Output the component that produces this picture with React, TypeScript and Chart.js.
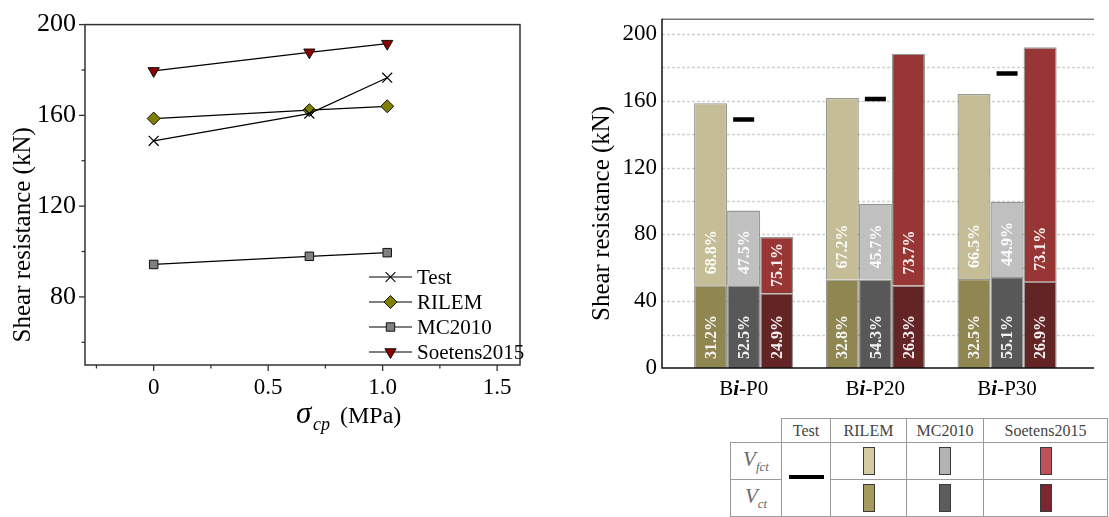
import React, { useEffect, useRef } from "react";
import { Chart, registerables } from "chart.js";

Chart.register(...registerables);

// ---------- Left panel data (shear resistance vs. prestress) ----------
const sigmaCp = [0, 0.68, 1.02];
const testKN = [148.8, 160.8, 176.6];
const rilemKN = [158.6, 162.3, 164.0];
const mc2010KN = [94.3, 97.9, 99.5];
const soetensKN = [179.6, 187.8, 191.6];
const leftSeriesNames = ["Test", "RILEM", "MC2010", "Soetens2015"];
const leftXTicks = [-0.25, 0, 0.25, 0.5, 0.75, 1.0, 1.25, 1.5];
const leftYTicks = [60, 80, 100, 120, 140, 160, 180, 200];

// ---------- Right panel data (stacked contributions) ----------
const specimens = ["Bi-P0", "Bi-P20", "Bi-P30"];
const specimenPos = [0, 1, 2];
const rilemVct = [49.5, 53.0, 53.3];
const rilemVfct = [109.0, 108.6, 110.7];
const mcVct = [49.5, 53.0, 54.5];
const mcVfct = [44.7, 45.3, 45.0];
const soetensVct = [44.7, 49.4, 51.6];
const soetensVfct = [33.8, 138.7, 140.3];
const testBarKN = [148.7, 161.0, 176.3];
const rilemPctVct = ["31.2%", "32.8%", "32.5%"];
const rilemPctVfct = ["68.8%", "67.2%", "66.5%"];
const mcPctVct = ["52.5%", "54.3%", "55.1%"];
const mcPctVfct = ["47.5%", "45.7%", "44.9%"];
const soetensPctVct = ["24.9%", "26.3%", "26.9%"];
const soetensPctVfct = ["75.1%", "73.7%", "73.1%"];
const rightYTicks = [0, 20, 40, 60, 80, 100, 120, 140, 160, 180, 200];

const serif = "'Liberation Serif', 'Times New Roman', Times, serif";

function drawMarker(ctx: CanvasRenderingContext2D, kind: string, x: number, y: number) {
  ctx.save();
  ctx.lineWidth = 1;
  ctx.strokeStyle = "#111";
  ctx.beginPath();
  if (kind === "Test") {
    const h = 4.9;
    ctx.lineWidth = 1.2;
    ctx.moveTo(x - h, y - h); ctx.lineTo(x + h, y + h);
    ctx.moveTo(x + h, y - h); ctx.lineTo(x - h, y + h);
    ctx.stroke();
  } else if (kind === "RILEM") {
    const r = 6.5;
    ctx.moveTo(x - r, y); ctx.lineTo(x, y - r); ctx.lineTo(x + r, y); ctx.lineTo(x, y + r); ctx.closePath();
    ctx.fillStyle = "#808000"; ctx.fill(); ctx.stroke();
  } else if (kind === "MC2010") {
    const h = 4.2;
    ctx.rect(x - h, y - h, 2 * h, 2 * h);
    ctx.fillStyle = "#808080"; ctx.fill(); ctx.stroke();
  } else {
    const r = 6.5;
    ctx.moveTo(x, y + r); ctx.lineTo(x - r * 0.866, y - r / 2); ctx.lineTo(x + r * 0.866, y - r / 2); ctx.closePath();
    ctx.fillStyle = "#8b0000"; ctx.fill(); ctx.stroke();
  }
  ctx.restore();
}

const leftDecor = {
  id: "leftDecor",
  afterDraw(chart: any) {
    const { ctx, chartArea: a, scales } = chart;
    const xs = scales.x, ys = scales.y;
    ctx.save();
    ctx.strokeStyle = "#333";
    ctx.lineWidth = 1.5;
    ctx.strokeRect(a.left, a.top, a.right - a.left, a.bottom - a.top);
    ctx.lineWidth = 1.3;
    leftXTicks.forEach((v) => {
      const px = xs.getPixelForValue(v);
      const major = Math.abs(v * 2 - Math.round(v * 2)) < 1e-6;
      ctx.beginPath(); ctx.moveTo(px, a.bottom); ctx.lineTo(px, a.bottom + (major ? 6 : 3.5)); ctx.stroke();
    });
    leftYTicks.forEach((v) => {
      const py = ys.getPixelForValue(v);
      const major = v % 40 === 0;
      ctx.beginPath(); ctx.moveTo(a.left, py); ctx.lineTo(a.left - (major ? 6 : 3.5), py); ctx.stroke();
    });
    // y title
    ctx.fillStyle = "#000";
    ctx.save();
    ctx.translate(23, (a.top + a.bottom) / 2 + 40);
    ctx.rotate(-Math.PI / 2);
    ctx.font = `25px ${serif}`;
    ctx.textAlign = "center";
    ctx.textBaseline = "middle";
    ctx.fillText("Shear resistance (kN)", 0, 0);
    ctx.restore();
    // x title
    ctx.textBaseline = "alphabetic";
    ctx.textAlign = "left";
    ctx.font = `italic 31px ${serif}`;
    ctx.fillText("\u03c3", 296, 423);
    ctx.font = `italic 18px ${serif}`;
    ctx.fillText("cp", 313, 430);
    ctx.font = `24px ${serif}`;
    ctx.fillText("(MPa)", 340, 423);
    // legend
    const rows = [277, 302, 327, 352];
    leftSeriesNames.forEach((name, i) => {
      const y = rows[i];
      ctx.strokeStyle = "#000";
      ctx.lineWidth = 1.2;
      ctx.beginPath(); ctx.moveTo(369, y); ctx.lineTo(412, y); ctx.stroke();
      drawMarker(ctx, name, 390.5, y);
      ctx.fillStyle = "#000";
      ctx.font = `21px ${serif}`;
      ctx.textBaseline = "middle";
      ctx.fillText(name, 417, y + 1);
    });
    ctx.restore();
  },
};

const rightDecor = {
  id: "rightDecor",
  beforeDatasetsDraw(chart: any) {
    const { ctx, chartArea: a, scales } = chart;
    ctx.save();
    ctx.strokeStyle = "#d2d2d2";
    ctx.lineWidth = 1.3;
    ctx.setLineDash([3, 2]);
    rightYTicks.forEach((v) => {
      if (v === 0) return;
      const py = Math.round(scales.y.getPixelForValue(v)) + 0.5;
      ctx.beginPath(); ctx.moveTo(a.left, py); ctx.lineTo(a.right, py); ctx.stroke();
    });
    ctx.restore();
  },
  afterDatasetsDraw(chart: any) {
    const { ctx } = chart;
    ctx.save();
    ctx.font = `bold 16px ${serif}`;
    chart.data.datasets.forEach((ds: any, di: number) => {
      if (!ds.pct) return;
      const meta = chart.getDatasetMeta(di);
      meta.data.forEach((el: any, i: number) => {
        const { x, y: top, base } = el.getProps(["x", "y", "base"], true);
        const txt = ds.pct[i];
        const w = ctx.measureText(txt).width;
        const pad = ds.part === "ct" ? 9 : 11;
        let start = base - pad;
        if (base - top < w + 2 * pad) start = (base + top) / 2 + w / 2;
        ctx.save();
        ctx.translate(x + 1, start);
        ctx.rotate(-Math.PI / 2);
        ctx.textAlign = "left";
        ctx.textBaseline = "middle";
        ctx.fillStyle = "rgba(255,255,255,0.93)";
        ctx.fillText(txt, 0, 0);
        ctx.restore();
      });
    });
    ctx.restore();
  },
  afterDraw(chart: any) {
    const { ctx, chartArea: a, scales } = chart;
    ctx.save();
    ctx.strokeStyle = "#777";
    ctx.lineWidth = 1.5;
    ctx.beginPath(); ctx.moveTo(a.left, a.top + 0.5); ctx.lineTo(a.right, a.top + 0.5); ctx.stroke();
    ctx.strokeStyle = "#111";
    ctx.beginPath(); ctx.moveTo(a.left, a.top); ctx.lineTo(a.left, a.bottom); ctx.lineTo(a.right, a.bottom); ctx.stroke();
    // specimen labels
    ctx.fillStyle = "#000";
    ctx.textBaseline = "alphabetic";
    ctx.textAlign = "left";
    specimens.forEach((lab, i) => {
      const parts = [
        { t: lab.slice(0, 1), f: `21px ${serif}` },
        { t: lab.slice(1, 2), f: `italic bold 21px ${serif}` },
        { t: lab.slice(2), f: `21px ${serif}` },
      ];
      let total = 0;
      parts.forEach((p) => { ctx.font = p.f; total += ctx.measureText(p.t).width; });
      let x = scales.x.getPixelForValue(specimenPos[i]) - total / 2;
      parts.forEach((p) => { ctx.font = p.f; ctx.fillText(p.t, x, 395); x += ctx.measureText(p.t).width; });
    });
    // y title
    ctx.save();
    ctx.translate(27, (a.top + a.bottom) / 2 + 20);
    ctx.rotate(-Math.PI / 2);
    ctx.font = `25px ${serif}`;
    ctx.textAlign = "center";
    ctx.textBaseline = "middle";
    ctx.fillText("Shear resistance (kN)", 0, 0);
    ctx.restore();
    ctx.restore();
  },
};

function pts(xs: number[], ys: number[]) {
  return xs.map((x, i) => ({ x, y: ys[i] }));
}

const barBorder = "rgba(70,70,60,0.55)";

export default function App() {
  const leftRef = useRef<HTMLCanvasElement>(null);
  const rightRef = useRef<HTMLCanvasElement>(null);

  useEffect(() => {
    const line = (label: string, data: number[], style: any, extra: any) => ({
      label,
      data: pts(sigmaCp, data),
      borderColor: "#000",
      borderWidth: 1.2,
      pointStyle: style,
      pointBorderColor: "#111",
      pointBorderWidth: 1,
      ...extra,
    });
    const left = new Chart(leftRef.current as HTMLCanvasElement, {
      type: "line",
      data: {
        datasets: [
          line("Test", testKN, "crossRot", { pointRadius: 7, pointBackgroundColor: "#000", pointBorderWidth: 1.2, pointBorderColor: "#000" }),
          line("RILEM", rilemKN, "rectRot", { pointRadius: 6.5, pointBackgroundColor: "#808000" }),
          line("MC2010", mc2010KN, "rect", { pointRadius: 6, pointBackgroundColor: "#808080" }),
          line("Soetens2015", soetensKN, "triangle", { pointRadius: 6.5, pointRotation: 180, pointBackgroundColor: "#8b0000" }),
        ],
      },
      options: {
        responsive: false,
        animation: false,
        events: [],
        layout: { padding: { top: 17, right: 40, left: 0, bottom: 0 } },
        plugins: { legend: { display: false }, tooltip: { enabled: false } },
        scales: {
          x: {
            type: "linear",
            min: -0.3,
            max: 1.6,
            grid: { display: false, drawTicks: false },
            border: { display: false },
            afterBuildTicks: (s: any) => { s.ticks = leftXTicks.map((v) => ({ value: v })); },
            afterFit: (s: any) => { s.height = 75; },
            ticks: {
              autoSkip: false,
              maxRotation: 0,
              padding: 9,
              color: "#000",
              font: { family: serif, size: 23 },
              callback: (v: any) => {
                const n = Number(v);
                if (Math.abs(n * 2 - Math.round(n * 2)) > 1e-6) return "";
                return n === 0 ? "0" : n.toFixed(1);
              },
            },
          },
          y: {
            min: 50,
            max: 200,
            grid: { display: false, drawTicks: false },
            border: { display: false },
            afterBuildTicks: (s: any) => { s.ticks = leftYTicks.map((v) => ({ value: v })); },
            afterFit: (s: any) => { s.width = 85; },
            ticks: {
              autoSkip: false,
              padding: 9,
              color: "#000",
              font: { family: serif, size: 26 },
              callback: (v: any) => (Number(v) % 40 === 0 ? String(v) : ""),
            },
          },
        },
      } as any,
      plugins: [leftDecor],
    });

    const bar = (label: string, stack: string, vals: number[], color: string, pct: string[], part: string) => ({
      type: "bar",
      label,
      stack,
      data: pts(specimenPos, vals),
      backgroundColor: color,
      borderColor: barBorder,
      borderWidth: 1.3,
      pct,
      part,
    });
    const right = new Chart(rightRef.current as HTMLCanvasElement, {
      type: "bar",
      data: {
        datasets: [
          bar("RILEM Vct", "RILEM", rilemVct, "#8f8651", rilemPctVct, "ct"),
          bar("RILEM Vfct", "RILEM", rilemVfct, "#c5bd96", rilemPctVfct, "fct"),
          bar("MC2010 Vct", "MC2010", mcVct, "#585858", mcPctVct, "ct"),
          bar("MC2010 Vfct", "MC2010", mcVfct, "#c0c0c0", mcPctVfct, "fct"),
          bar("Soetens2015 Vct", "Soetens2015", soetensVct, "#622424", soetensPctVct, "ct"),
          bar("Soetens2015 Vfct", "Soetens2015", soetensVfct, "#983535", soetensPctVfct, "fct"),
          {
            type: "line",
            label: "Test",
            stack: "test",
            data: pts(specimenPos, testBarKN),
            showLine: false,
            pointStyle: "line",
            pointRadius: 10.5,
            pointBorderWidth: 4.5,
            pointBorderColor: "#000",
            borderColor: "#000",
          },
        ] as any,
      },
      options: {
        responsive: false,
        animation: false,
        events: [],
        layout: { padding: { top: 15, right: 1, left: 0, bottom: 32 } },
        datasets: { bar: { categoryPercentage: 0.753, barPercentage: 1 } },
        plugins: { legend: { display: false }, tooltip: { enabled: false } },
        scales: {
          x: {
            type: "linear",
            offset: false,
            min: -0.62,
            max: 2.66,
            display: false,
            afterBuildTicks: (s: any) => { s.ticks = specimenPos.map((v) => ({ value: v })); },
          },
          y: {
            stacked: true,
            min: 0,
            max: 209,
            grid: { display: false, drawTicks: false },
            border: { display: false },
            afterBuildTicks: (s: any) => { s.ticks = rightYTicks.map((v) => ({ value: v })); },
            afterFit: (s: any) => { s.width = 87; },
            ticks: {
              autoSkip: false,
              padding: 5,
              color: "#000",
              font: { family: serif, size: 23 },
              callback: (v: any) => (Number(v) % 40 === 0 ? String(v) : ""),
            },
          },
        },
      } as any,
      plugins: [rightDecor],
    });
    return () => {
      left.destroy();
      right.destroy();
    };
  }, []);

  const cell: React.CSSProperties = { border: "1px solid #9a9a9a", padding: 0, textAlign: "center", verticalAlign: "middle" };
  const sw = (c: string): React.CSSProperties => ({
    display: "inline-block",
    width: 10,
    height: 26,
    background: c,
    border: "1.5px solid #3a3a3a",
    verticalAlign: "middle",
  });
  const vLab: React.CSSProperties = { ...cell, color: "#6a6a6a", fontSize: 21, fontStyle: "italic" };

  return (
    <div style={{ position: "absolute", left: 0, top: 0, width: 1109, height: 517, background: "#fff", overflow: "hidden" }}>
      <canvas ref={leftRef} width={560} height={440} style={{ position: "absolute", left: 0, top: 0 }} />
      <canvas ref={rightRef} width={534} height={400} style={{ position: "absolute", left: 575, top: 0 }} />
      <table
        style={{
          position: "absolute",
          left: 730,
          top: 418,
          width: 377,
          borderCollapse: "collapse",
          fontFamily: serif,
          fontSize: 16,
          color: "#444",
          tableLayout: "fixed",
        }}
      >
        <colgroup>
          <col style={{ width: 51 }} />
          <col style={{ width: 49 }} />
          <col style={{ width: 76 }} />
          <col style={{ width: 77 }} />
          <col style={{ width: 124 }} />
        </colgroup>
        <tbody>
          <tr style={{ height: 24 }}>
            <td style={{ padding: 0, border: "none", borderBottom: "1px solid #9a9a9a", borderRight: "1px solid #9a9a9a" }}></td>
            <td style={cell}>Test</td>
            <td style={cell}>RILEM</td>
            <td style={cell}>MC2010</td>
            <td style={cell}>Soetens2015</td>
          </tr>
          <tr style={{ height: 37 }}>
            <td style={vLab}>
              V<sub style={{ fontSize: 13 }}>fct</sub>
            </td>
            <td style={cell} rowSpan={2}>
              <div style={{ width: 35, height: 4, background: "#000", margin: "0 auto", position: "relative", top: -3 }} />
            </td>
            <td style={cell}><span style={sw("#d3cba1")} /></td>
            <td style={cell}><span style={sw("#b3b3b3")} /></td>
            <td style={cell}><span style={sw("#c2505a")} /></td>
          </tr>
          <tr style={{ height: 37 }}>
            <td style={vLab}>
              V<sub style={{ fontSize: 13 }}>ct</sub>
            </td>
            <td style={cell}><span style={sw("#a39a5c")} /></td>
            <td style={cell}><span style={sw("#5c5c5c")} /></td>
            <td style={cell}><span style={sw("#7b2731")} /></td>
          </tr>
        </tbody>
      </table>
    </div>
  );
}
